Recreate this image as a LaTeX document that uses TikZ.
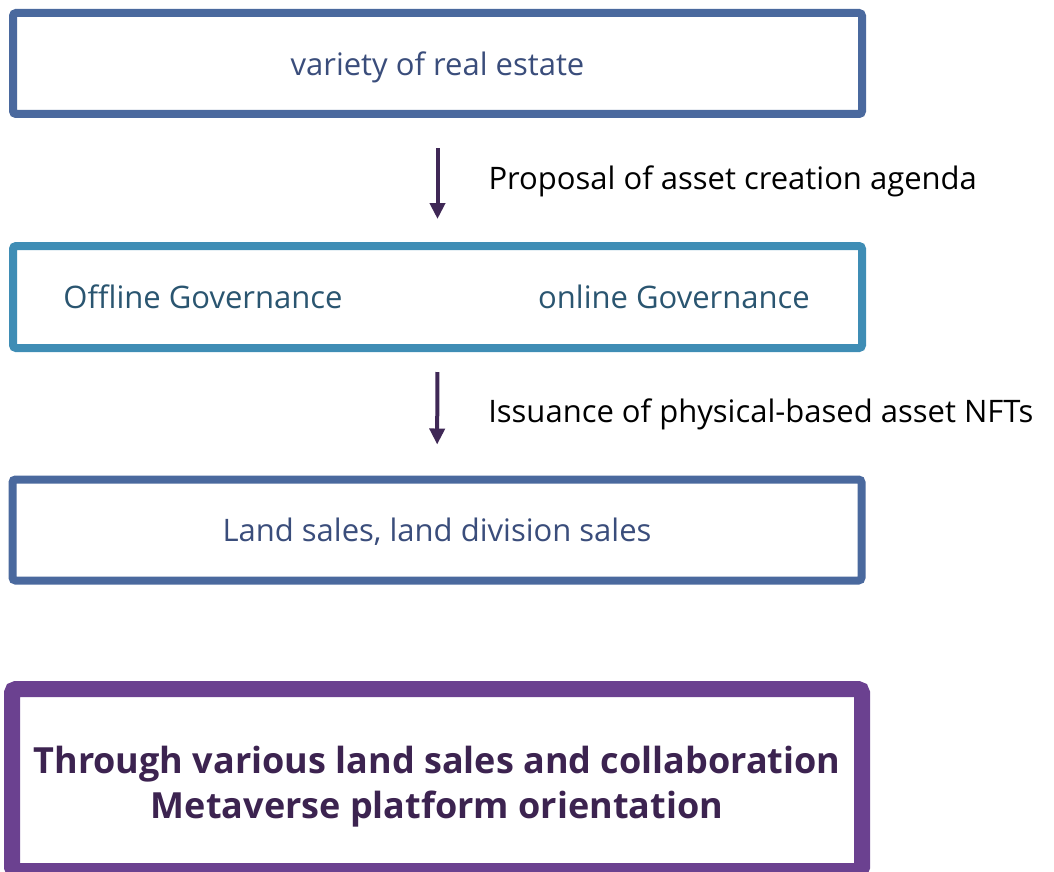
\documentclass[tikz,border=0pt]{standalone}
\usepackage{fontspec}
\setmainfont{Open Sans}
\usetikzlibrary{positioning,arrows.meta}
\definecolor{estateblue}{HTML}{4A699E}
\definecolor{govteal}{HTML}{3F8DB5}
\definecolor{visionpurple}{HTML}{6B4190}
\definecolor{arrowpurple}{HTML}{3F2856}
\definecolor{estatetext}{HTML}{3A4D7B}
\definecolor{govtext}{HTML}{2A5570}
\definecolor{visiontext}{HTML}{3C2350}
\tikzset{
  flowarrow/.style={-{Triangle[width=15pt,length=16pt]}, line width=4pt, draw=arrowpurple},
  estatebox/.style={draw=estateblue, line width=8pt, rounded corners=3pt, fill=white, minimum width=849pt, minimum height=101pt, align=center, text=estatetext, text depth=0pt},
  govbox/.style={draw=govteal, line width=8pt, rounded corners=3pt, fill=white, minimum width=849pt, minimum height=102pt},
  govtextnode/.style={text=govtext, inner sep=0pt},
  visionbox/.style={draw=visionpurple, line width=16pt, rounded corners=4pt, fill=white, minimum width=850pt, minimum height=182pt},
  visiontextnode/.style={align=center, text=visiontext, inner sep=0pt, font=\fontsize{36}{45}\selectfont\bfseries},
  flowlabel/.style={anchor=west, inner sep=0pt, xshift=49pt, text=black}
}

\begin{document}
\begin{tikzpicture}[x=1pt, y=-1pt, every node/.style={font=\fontsize{31}{37}\selectfont}]
  \useasboundingbox (0,0) rectangle (1054,872);
  \node[estatebox] (estate) at (437.5,63.5) {variety of real estate};
  \node[govbox] (gov) at (437.5,297) {};
  \node[govtextnode] (offline) at (203,297) {Offline Governance};
  \node[govtextnode] (online) at (674,297) {online Governance};
  \node[estatebox] (sales) at (437,530) {Land sales, land division sales};
  \node[visionbox] (vision) at (437,780) {};
  \node[visiontextnode] (motto) at (437,786.5) {Through various land sales and collaboration\\Metaverse platform orientation};
  \draw[flowarrow, shorten <=30pt, shorten >=23pt] (estate) -- node[flowlabel, yshift=-1pt]{Proposal of asset creation agenda} (gov);
  \draw[flowarrow, shorten <=20pt, shorten >=31pt] (gov) -- node[flowlabel, yshift=-1pt]{Issuance of physical-based asset NFTs} (sales);
\end{tikzpicture}
\end{document}
